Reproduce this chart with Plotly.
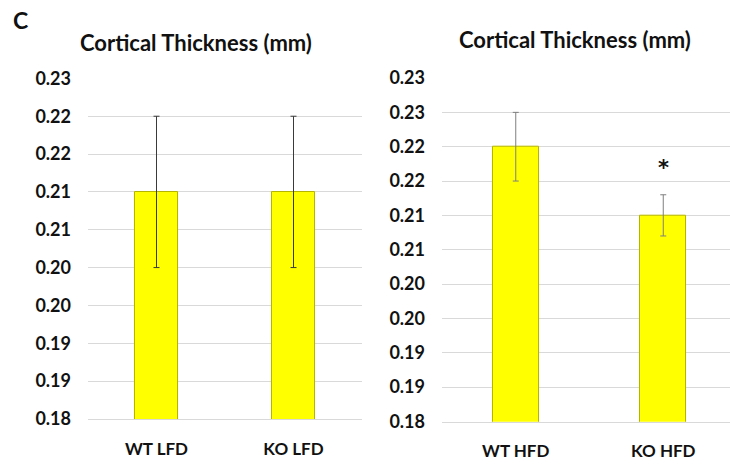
import plotly.graph_objects as go

# Data
lfd_groups = ["WT LFD", "KO LFD"]
lfd_values = [0.21, 0.21]
lfd_errors = [0.01, 0.01]

hfd_groups = ["WT HFD", "KO HFD"]
hfd_values = [0.22, 0.21]
hfd_errors = [0.005, 0.003]

lfd_tickvals = [0.18, 0.185, 0.19, 0.195, 0.20, 0.205, 0.21, 0.215, 0.22, 0.225]
lfd_ticktext = ["0.18", "0.19", "0.19", "0.20", "0.20", "0.21", "0.21", "0.22", "0.22", "0.23"]
hfd_tickvals = [0.18, 0.185, 0.19, 0.195, 0.20, 0.205, 0.21, 0.215, 0.22, 0.225, 0.23]
hfd_ticktext = ["0.18", "0.19", "0.19", "0.20", "0.20", "0.21", "0.21", "0.22", "0.22", "0.23", "0.23"]

title_text = "Cortical Thickness (mm)"
panel_label = "C"
sig_mark = "*"

FONT = "Lato"
BAR_COLOR = "#ffff00"
EDGE = "#b5b500"
GRID = "#d9d9d9"

fig = go.Figure()

fig.add_trace(go.Bar(
    x=[0, 1], y=lfd_values, width=0.31,
    marker=dict(color=BAR_COLOR, line=dict(color=EDGE, width=1)),
    error_y=dict(type="data", array=lfd_errors, color="#3a3a3a", thickness=1, width=3),
    xaxis="x", yaxis="y", showlegend=False,
))
fig.add_trace(go.Bar(
    x=[0, 1], y=hfd_values, width=0.31,
    marker=dict(color=BAR_COLOR, line=dict(color=EDGE, width=1)),
    error_y=dict(type="data", array=hfd_errors, color="#7f7f7f", thickness=1, width=3),
    xaxis="x2", yaxis="y2", showlegend=False,
))

W, H = 730, 464
tickfont = dict(family=FONT, size=18, color="#111111", weight="bold")
catfont = dict(family=FONT, size=17, color="#111111", weight="bold")

fig.update_layout(
    width=W, height=H,
    margin=dict(l=0, r=0, t=0, b=0, autoexpand=False),
    paper_bgcolor="white", plot_bgcolor="white",
    bargap=0,
    xaxis=dict(
        domain=[88 / W, 362 / W], range=[-0.5, 1.5],
        tickvals=[0, 1], ticktext=lfd_groups, tickfont=catfont,
        showgrid=False, zeroline=False, showline=True, linecolor=GRID, linewidth=1,
        ticks="", ticklabelstandoff=14, anchor="y", automargin=False,
    ),
    yaxis=dict(
        domain=[1 - 419.3 / H, 1 - 78 / H], range=[0.17995, 0.22505],
        tickvals=lfd_tickvals, ticktext=lfd_ticktext, tickfont=tickfont,
        showgrid=True, gridcolor=GRID, gridwidth=1, zeroline=False, showline=False,
        ticks="", ticklabelstandoff=16, anchor="x", automargin=False,
    ),
    xaxis2=dict(
        domain=[442 / W, 1.0], range=[-0.5, 1.5 - 7 / 147.5],
        tickvals=[0, 1], ticktext=hfd_groups, tickfont=catfont,
        showgrid=False, zeroline=False, showline=True, linecolor=GRID, linewidth=1,
        ticks="", ticklabelstandoff=14, anchor="y2", automargin=False,
    ),
    yaxis2=dict(
        domain=[1 - 421.7 / H, 1 - 77.7 / H], range=[0.17995, 0.23005],
        tickvals=hfd_tickvals, ticktext=hfd_ticktext, tickfont=tickfont,
        showgrid=True, gridcolor=GRID, gridwidth=1, zeroline=False, showline=False,
        ticks="", ticklabelstandoff=16, anchor="x2", automargin=False,
    ),
    annotations=[
        dict(text=panel_label, x=11 / W, y=1 - 20 / H, xref="paper", yref="paper",
             xanchor="left", yanchor="middle", showarrow=False,
             font=dict(family=FONT, size=23, color="#111111", weight="bold")),
        dict(text=title_text, x=196 / W, y=1 - 42 / H, xref="paper", yref="paper",
             xanchor="center", yanchor="middle", showarrow=False,
             font=dict(family=FONT, size=22, color="#111111", weight="bold")),
        dict(text=title_text, x=575 / W, y=1 - 39 / H, xref="paper", yref="paper",
             xanchor="center", yanchor="middle", showarrow=False,
             font=dict(family=FONT, size=22, color="#111111", weight="bold")),
        dict(text=sig_mark, x=1, y=0.2169, xref="x2", yref="y2",
             xanchor="center", yanchor="middle", showarrow=False,
             font=dict(family="DejaVu Sans", size=21, color="#111111", weight="bold")),
    ],
)

fig.write_html("out.html")
